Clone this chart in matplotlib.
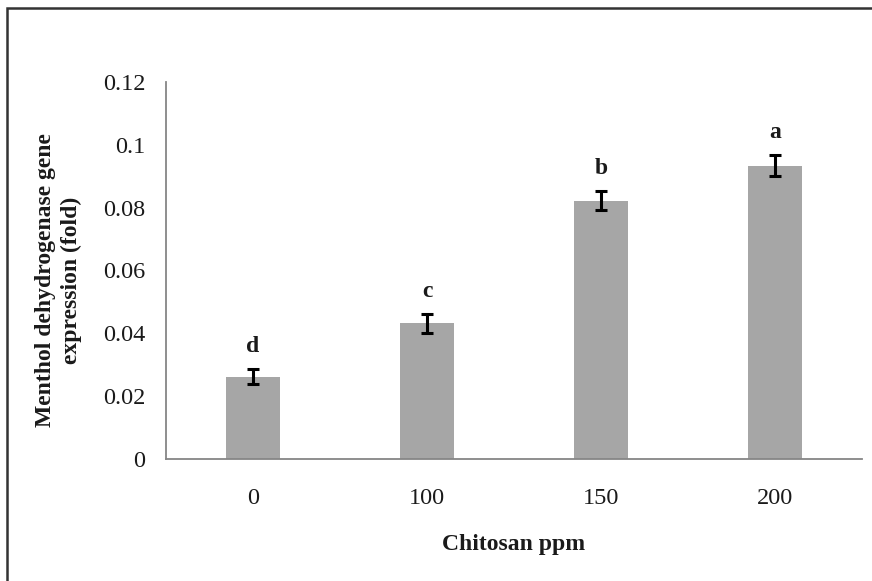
import matplotlib
matplotlib.use('Agg')
import matplotlib.pyplot as plt
from matplotlib.patches import Rectangle

plt.rcParams['font.family'] = ['Liberation Serif', 'DejaVu Serif']

# data
doses = ['0', '100', '150', '200']
expr = [0.0262, 0.0432, 0.0822, 0.0934]
err = [0.0024, 0.0030, 0.0030, 0.0034]
letters = ['d', 'c', 'b', 'a']

BAR = '#A6A6A6'
AXIS = '#868686'
TXT = '#1a1a1a'

fig = plt.figure(figsize=(8.72, 5.81), dpi=100)
ax = fig.add_axes([166/872, 1 - 459/581, 696/872, 377/581])

x = list(range(len(doses)))
ax.bar(x, expr, width=0.31, color=BAR, zorder=2)
ax.errorbar(x, expr, yerr=err, fmt='none', ecolor='black',
            elinewidth=2.2, capsize=4.5, capthick=2.2, zorder=3)
for xi, v, e, l in zip(x, expr, err, letters):
    ax.text(xi, v + e + 0.0055, l, ha='center', va='baseline',
            fontsize=17, fontweight='bold', color=TXT)

ax.set_xlim(-0.5, 3.5)
ax.set_ylim(0, 0.12)
ax.set_yticks([0, 0.02, 0.04, 0.06, 0.08, 0.1, 0.12])
ax.set_yticklabels(['0', '0.02', '0.04', '0.06', '0.08', '0.1', '0.12'])
ax.set_xticks(x)
ax.set_xticklabels(doses)
ax.tick_params(axis='y', length=0, pad=15, labelsize=17.5, labelcolor=TXT)
ax.tick_params(axis='x', length=0, pad=21, labelsize=17.5, labelcolor=TXT)

for s in ['top', 'right']:
    ax.spines[s].set_visible(False)
for s in ['left', 'bottom']:
    ax.spines[s].set_color(AXIS)
    ax.spines[s].set_linewidth(1.3)

ax.set_xlabel('Chitosan ppm', fontsize=17, fontweight='bold', color=TXT, va='center')
ax.xaxis.set_label_coords(0.5, -0.228)
ax.set_ylabel('Menthol dehydrogenase gene\nexpression (fold)', fontsize=17,
              fontweight='bold', color=TXT, va='center', linespacing=1.3)
ax.yaxis.set_label_coords(-0.154, 0.475)

# outer chart frame (right and bottom edges fall outside the image)
fig.add_artist(Rectangle((7/872, -0.1), 1.2, (1 - 8/581) + 0.1,
                         transform=fig.transFigure, fill=False,
                         edgecolor='#333333', linewidth=1.8))

fig.savefig('out.png', dpi=100, facecolor='white')
